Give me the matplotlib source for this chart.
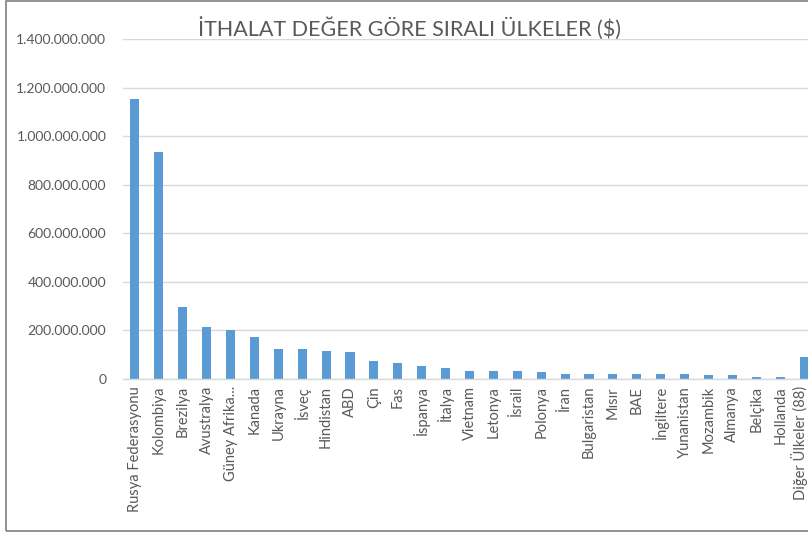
import matplotlib
matplotlib.use("Agg")
import matplotlib.pyplot as plt
import matplotlib.transforms as mtransforms
from matplotlib.ticker import FuncFormatter
from matplotlib.patches import Rectangle

countries = ["Rusya Federasyonu", "Kolombiya", "Brezilya", "Avustralya", "Güney Afrika...",
             "Kanada", "Ukrayna", "İsveç", "Hindistan", "ABD", "Çin", "Fas", "İspanya",
             "İtalya", "Vietnam", "Letonya", "İsrail", "Polonya", "İran", "Bulgaristan",
             "Mısır", "BAE", "İngiltere", "Yunanistan", "Mozambik", "Almanya", "Belçika",
             "Hollanda", "Diğer Ülkeler (88)"]
values = [1155e6, 936e6, 296e6, 213e6, 202e6,
          174e6, 122e6, 122e6, 117e6, 111e6, 73e6, 67e6, 55e6,
          44e6, 33e6, 33e6, 33e6, 28e6, 22e6, 22e6,
          22e6, 22e6, 22e6, 22e6, 15e6, 15e6, 10e6,
          10e6, 89e6]
yticks = [0, 200e6, 400e6, 600e6, 800e6, 1000e6, 1200e6, 1400e6]
title = "İTHALAT DEĞER GÖRE SIRALI ÜLKELER ($)"

plt.rcParams['font.family'] = ['Lato', 'DejaVu Sans']
W, H = 808, 533
fig = plt.figure(figsize=(W/100, H/100), dpi=100)
ax = fig.add_axes([123/W, 1-379/H, (816-123)/W, (379-39)/H])

x = list(range(len(countries)))
ax.bar(x, values, width=0.38, color="#5b9bd5", zorder=3)
ax.set_xlim(-0.5, len(countries)-0.5)
ax.set_ylim(0, 1400e6)
ax.set_yticks(yticks)
ax.yaxis.set_major_formatter(FuncFormatter(lambda v, p: f"{int(v):,}".replace(",", ".")))
ax.set_xticks(x)
ax.set_xticklabels(countries, rotation=90, fontsize=10.5, color="#595959")
ax.tick_params(axis='y', labelsize=10, labelcolor="#595959", length=0, pad=12)
ax.tick_params(axis='x', length=0, pad=5)
ax.grid(axis='y', color="#d9d9d9", linewidth=1, zorder=0)
for s in ["top", "right", "left"]:
    ax.spines[s].set_visible(False)
ax.spines["bottom"].set_color("#d9d9d9")
ax.spines["bottom"].set_linewidth(1)
ax.spines["bottom"].set_zorder(4)

# keep the last (edge) label inside the picture, as in the reference
last = ax.get_xticklabels()[-1]
last.set_transform(last.get_transform() + mtransforms.ScaledTranslation(-5/100, 0, fig.dpi_scale_trans))

fig.text(410/W, 1-28/H, title, ha="center", va="center", fontsize=15.5, color="#595959")

fig.patches.append(Rectangle((6/W, 2/H), 1.2, 1-3/H, transform=fig.transFigure,
                             fill=False, edgecolor="#7f7f7f", linewidth=1.2))

fig.savefig("out.png", dpi=100)
